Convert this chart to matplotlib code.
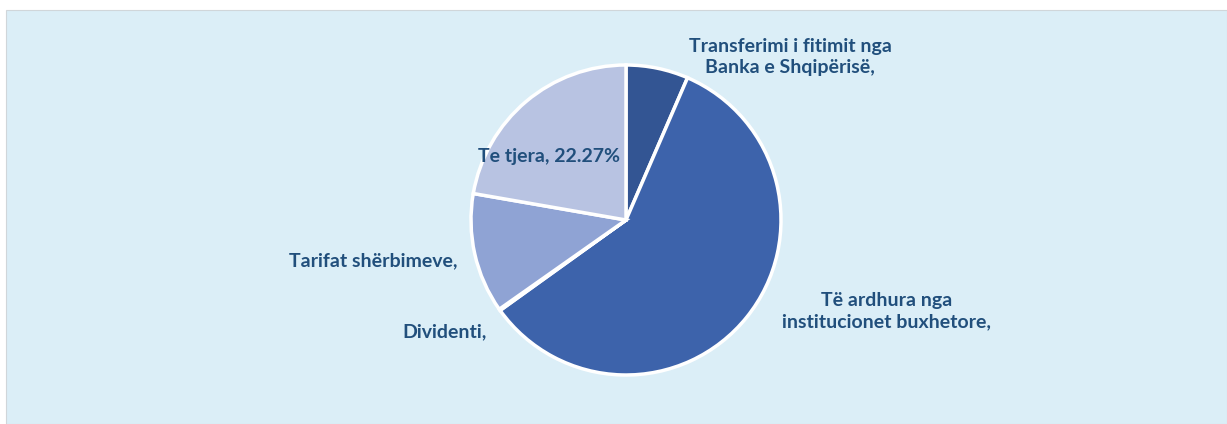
import matplotlib.pyplot as plt
from matplotlib.patches import Rectangle

# Data
kategori = ["Transferimi i fitimit nga\nBanka e Shqipërisë,",
            "Të ardhura nga\ninstitucionet buxhetore,",
            "Dividenti,",
            "Tarifat shërbimeve,",
            "Te tjera, 22.27%"]
nilai = [6.5, 58.6, 0.15, 12.5, 22.27]
warna = ["#335593", "#3d63ab", "#6f88c4", "#8fa3d4", "#b8c3e2"]

# posisi label (relatif ke pusat pie, radius = 1)
label_pos = [(1.06, 1.05, "center"),
             (1.68, -0.59, "center"),
             (-1.17, -0.72, "center"),
             (-1.09, -0.26, "right"),
             (-0.50, 0.41, "center")]

W, H = 1227, 424
fig = plt.figure(figsize=(W / 100, H / 100), dpi=100)
fig.patch.set_facecolor("white")

# panel latar belakang
fig.patches.append(Rectangle((6 / W, 0), 1 - 6 / W, (H - 10) / H, transform=fig.transFigure,
                             facecolor="#dbeef7", edgecolor="#d0d6da", linewidth=0.8, zorder=-1))

cx, cy, r = 626, 220, 155
ax = fig.add_axes([(cx - r) / W, (H - cy - r) / H, 2 * r / W, 2 * r / H])
ax.set_zorder(2)
ax.pie(nilai, colors=warna, startangle=90, counterclock=False, radius=1,
       wedgeprops=dict(edgecolor="white", linewidth=2.5))
ax.set_xlim(-1, 1)
ax.set_ylim(-1, 1)
ax.set_aspect("equal")
ax.axis("off")

for teks, (x, y, ha) in zip(kategori, label_pos):
    ax.text(x, y, teks, ha=ha, va="center", fontsize=14, fontweight="bold",
            family="Lato", color="#214f7c", linespacing=1.3, clip_on=False)

plt.savefig("out.png", dpi=100)
